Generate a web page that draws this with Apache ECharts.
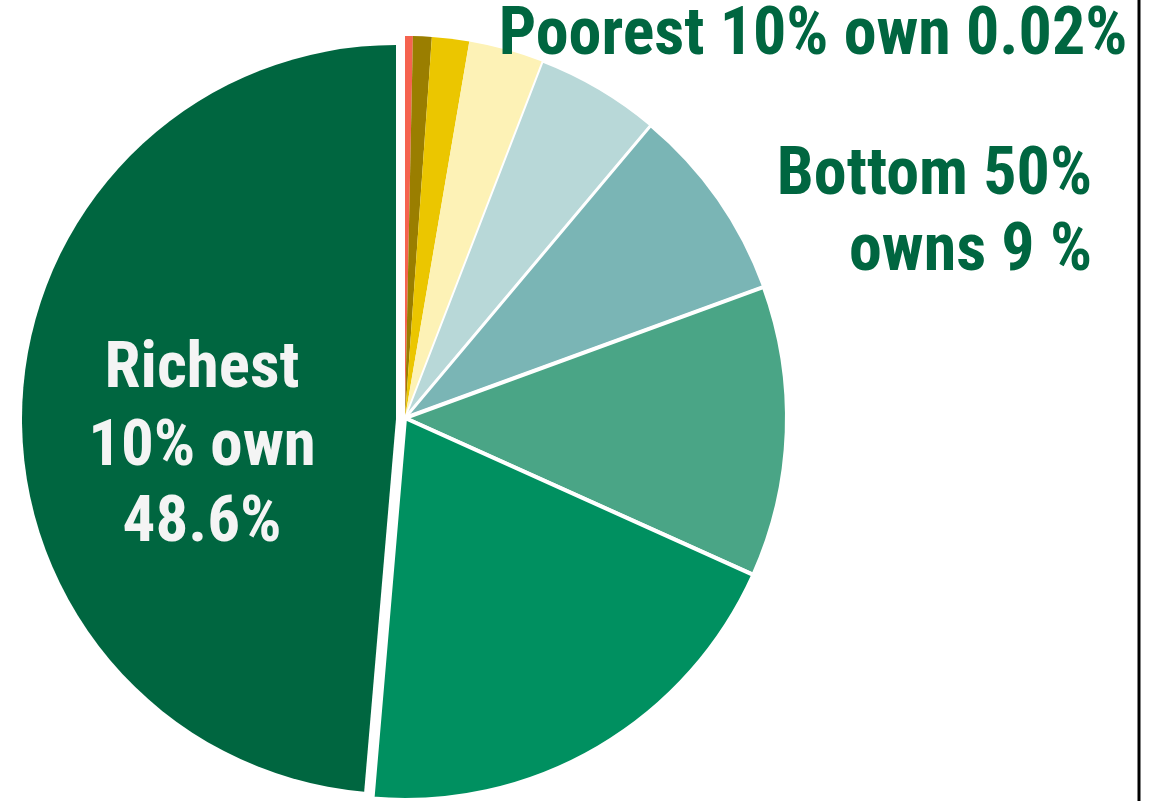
<!DOCTYPE html>
<html>
<head>
<meta charset="utf-8">
<script src="https://cdn.jsdelivr.net/npm/echarts@6/dist/echarts.min.js"></script>
<style>
html,body{margin:0;padding:0;background:#fff;}
#chart{width:1154px;height:801px;}
</style>
</head>
<body>
<div id="chart"></div>
<script>
// ---- data ----
const categories = ['Poorest 10%', 'Group 2', 'Group 3', 'Group 4', 'Group 5', 'Group 6', 'Group 7', 'Group 8', 'Richest 10%'];
const shares = [0.33, 0.79, 1.57, 3.17, 5.25, 8.3, 12.3, 19.6, 48.6];
const labelPoorest = 'Poorest 10% own 0.02%';
const labelBottom = ['Bottom 50%', 'owns 9 %'];
const labelRichest = ['Richest', '10% own', '48.6%'];

// ---- styles ----
const colors = ['#f5634f', '#9a7e00', '#ebc600', '#fdf2b6', '#b8d8d8', '#7ab5b5', '#4aa586', '#009060', '#006640'];
const borders = [0, 0, 0, 0, 2, 3, 4, 4, 0];
const FONT = "'Liberation Sans Narrow', 'Roboto Condensed', 'DejaVu Sans Condensed', sans-serif";
const TXT = '#006640';

const chart = echarts.init(document.getElementById('chart'), null, {renderer: 'canvas'});
const last = categories.length - 1;
const transparent = 'rgba(0,0,0,0)';

function buildData(onlyRichest) {
  return categories.map((name, i) => {
    const show = onlyRichest ? i === last : i !== last;
    return {
      name: name,
      value: shares[i],
      itemStyle: {
        color: show ? colors[i] : transparent,
        borderColor: '#ffffff',
        borderWidth: show ? borders[i] : 0
      }
    };
  });
}

const baseSeries = {
  type: 'pie',
  startAngle: 90,
  clockwise: true,
  silent: true,
  label: {show: false},
  labelLine: {show: false},
  emphasis: {disabled: true},
  animation: false
};

chart.setOption({
  animation: false,
  series: [
    Object.assign({}, baseSeries, {
      name: 'rest',
      center: [405, 418],
      radius: [0, 382],
      data: buildData(false)
    }),
    Object.assign({}, baseSeries, {
      name: 'richest',
      center: [396, 419],
      radius: [0, 374],
      data: buildData(true)
    })
  ],
  graphic: [
    {type: 'line', shape: {x1: 1139, y1: 0, x2: 1139, y2: 801}, style: {stroke: '#000', lineWidth: 3}, z: 10},
    {type: 'text', z: 10, style: {text: labelPoorest, x: 813, y: 37, textAlign: 'center', textVerticalAlign: 'middle', font: 'bold 66px ' + FONT, fill: TXT}},
    {type: 'text', z: 10, style: {text: labelBottom[0], x: 1092, y: 177, textAlign: 'right', textVerticalAlign: 'middle', font: 'bold 66px ' + FONT, fill: TXT}},
    {type: 'text', z: 10, style: {text: labelBottom[1], x: 1092, y: 253, textAlign: 'right', textVerticalAlign: 'middle', font: 'bold 66px ' + FONT, fill: TXT}},
    {type: 'text', z: 10, style: {text: labelRichest[0], x: 202, y: 371, textAlign: 'center', textVerticalAlign: 'middle', font: 'bold 65px ' + FONT, fill: '#f4f4f4'}},
    {type: 'text', z: 10, style: {text: labelRichest[1], x: 202, y: 449, textAlign: 'center', textVerticalAlign: 'middle', font: 'bold 65px ' + FONT, fill: '#f4f4f4'}},
    {type: 'text', z: 10, style: {text: labelRichest[2], x: 202, y: 525, textAlign: 'center', textVerticalAlign: 'middle', font: 'bold 65px ' + FONT, fill: '#f4f4f4'}}
  ]
});
</script>
</body>
</html>
